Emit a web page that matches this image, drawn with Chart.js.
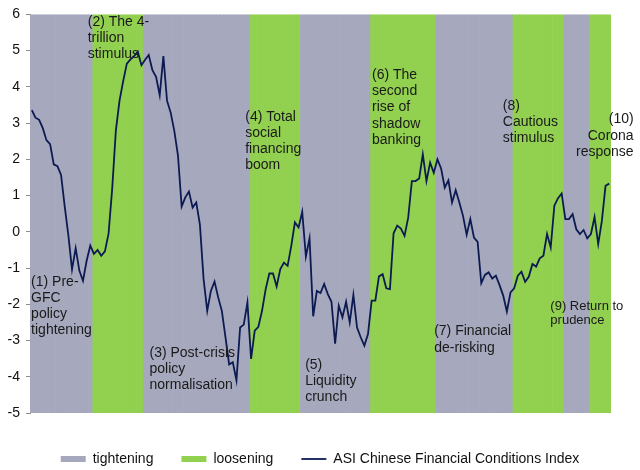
<!DOCTYPE html>
<html>
<head>
<meta charset="utf-8">
<script src="https://cdn.jsdelivr.net/npm/chart.js@4"></script>
<style>
  html, body { margin: 0; padding: 0; background: #fff; }
</style>
</head>
<body>
<canvas id="fciChart" width="640" height="470"></canvas>
<script>
// ========= data =========
const startYear = 2007;
const monthCount = 159; // Jan 2007 .. Mar 2020

const fciValues = [
  3.36, 3.15, 3.09, 2.86, 2.53, 2.42, 1.86, 1.81, 1.57, 0.70, -0.10, -1.04,
  -0.45, -1.07, -1.35, -0.80, -0.38, -0.61, -0.50, -0.66, -0.54, -0.05, 1.20, 2.80,
  3.62, 4.16, 4.64, 4.76, 4.85, 4.97, 4.60, 4.75, 4.88, 4.46, 4.28, 3.77,
  4.85, 3.62, 3.29, 2.78, 2.10, 0.70, 0.95, 1.11, 0.67, 0.81, 0.20, -1.30,
  -2.18, -1.63, -1.37, -1.81, -2.18, -2.91, -3.66, -3.60, -4.10, -2.64, -2.56, -1.95,
  -3.51, -2.73, -2.62, -2.18, -1.58, -1.15, -1.15, -1.51, -1.03, -0.85, -0.94, -0.39,
  0.26, 0.12, 0.55, -0.68, -0.18, -2.33, -1.63, -1.69, -1.44, -1.72, -1.93, -3.09,
  -2.04, -2.36, -1.93, -2.50, -1.74, -2.64, -2.91, -3.14, -2.82, -1.90, -1.90, -1.23,
  -1.17, -1.56, -1.58, -0.04, 0.17, 0.09, -0.11, 0.39, 1.40, 1.40, 1.47, 2.14,
  1.40, 1.91, 1.63, 2.00, 1.75, 1.22, 1.42, 0.81, 1.15, 0.81, 0.44, -0.08,
  0.35, -0.16, -0.28, -1.42, -1.19, -1.12, -1.29, -1.21, -1.47, -1.76, -2.20, -1.67,
  -1.56, -1.21, -1.10, -1.38, -1.24, -0.89, -0.96, -0.73, -0.66, -0.06, -0.43, 0.72,
  0.93, 1.06, 0.35, 0.35, 0.49, 0.07, -0.06, 0.05, -0.18, -0.06, 0.41, -0.34,
  0.30, 1.27, 1.33
];

const tighteningPeriods = [
  ["2007-01", "2008-05"], ["2009-08", "2011-12"], ["2013-03", "2014-09"],
  ["2016-04", "2017-12"], ["2019-03", "2019-09"]
];
const looseningPeriods = [
  ["2008-06", "2009-07"], ["2012-01", "2013-02"], ["2014-10", "2016-03"],
  ["2018-01", "2019-02"], ["2019-10", "2020-03"]
];

const yMin = -5, yMax = 6;

// text notes, anchored in (month index, index value)
const notes = [
  { lines: ["(1) Pre-", "GFC", "policy", "tightening"], month: -0.2, value: -1.40, align: "left", size: 14, gap: 16 },
  { lines: ["(2) The 4-", "trillion", "stimulus"], month: 15.3, value: 5.79, align: "left", size: 14, gap: 16.3 },
  { lines: ["(3) Post-crisis", "policy", "normalisation"], month: 32.2, value: -3.35, align: "left", size: 14, gap: 16 },
  { lines: ["(4) Total", "social", "financing", "boom"], month: 58.4, value: 3.17, align: "left", size: 14, gap: 16.2 },
  { lines: ["(5)", "Liquidity", "crunch"], month: 74.8, value: -3.69, align: "left", size: 14, gap: 16 },
  { lines: ["(6) The", "second", "rise of", "shadow", "banking"], month: 93.1, value: 4.33, align: "left", size: 14, gap: 16.3 },
  { lines: ["(7) Financial", "de-risking"], month: 110.1, value: -2.75, align: "left", size: 14, gap: 16.3 },
  { lines: ["(8)", "Cautious", "stimulus"], month: 128.9, value: 3.46, align: "left", size: 14, gap: 16 },
  { lines: ["(9) Return to", "prudence"], month: 141.9, value: -2.07, align: "left", size: 13, gap: 14 },
  { lines: ["(10)", "Corona", "response"], month: 164.7, value: 3.10, align: "right", size: 14, gap: 16.2 }
];

// ========= helpers =========
const FONT = "'Liberation Sans', Arial, sans-serif";
const GRAY = "#a6a8bd";
const GREEN = "#92d050";
const NAVY = "#0c1a52";
const AXIS = "#8c8c8c";

const months = [];
for (let i = 0; i < monthCount; i++) {
  const yr = startYear + Math.floor(i / 12);
  const mo = (i % 12) + 1;
  months.push(yr + "-" + String(mo).padStart(2, "0"));
}

function bandData(periods) {
  return months.map(m => periods.some(([a, b]) => m >= a && m <= b) ? [yMin, yMax] : null);
}

const notesPlugin = {
  id: "periodNotes",
  afterDraw(chart) {
    const { ctx, scales: { x, y } } = chart;
    ctx.save();
    ctx.fillStyle = "#1a1a1a";
    ctx.textBaseline = "middle";
    notes.forEach(n => {
      ctx.font = n.size + "px " + FONT;
      ctx.textAlign = n.align;
      const px = x.getPixelForValue(n.month);
      const py = y.getPixelForValue(n.value);
      n.lines.forEach((t, k) => ctx.fillText(t, px, py + k * n.gap));
    });
    ctx.restore();
  }
};

// ========= chart =========
new Chart(document.getElementById("fciChart"), {
  data: {
    labels: months,
    datasets: [
      {
        type: "bar", label: "tightening", data: bandData(tighteningPeriods),
        backgroundColor: GRAY, borderWidth: 0, barPercentage: 1, categoryPercentage: 1,
        grouped: false, order: 1, pointStyle: "rect"
      },
      {
        type: "bar", label: "loosening", data: bandData(looseningPeriods),
        backgroundColor: GREEN, borderWidth: 0, barPercentage: 1, categoryPercentage: 1,
        grouped: false, order: 1, pointStyle: "rect"
      },
      {
        type: "line", label: "ASI Chinese Financial Conditions Index", data: fciValues,
        borderColor: NAVY, backgroundColor: NAVY, borderWidth: 1.8, pointRadius: 0,
        tension: 0, fill: false, order: 0, pointStyle: "line"
      }
    ]
  },
  options: {
    responsive: false,
    animation: false,
    layout: { padding: { top: 13, left: 0, right: 0, bottom: -6 } },
    plugins: {
      tooltip: { enabled: false },
      legend: {
        position: "bottom",
        labels: {
          usePointStyle: true, pointStyleWidth: 25, boxHeight: 6, padding: 28,
          color: "#111", font: { size: 14, family: FONT },
          sort: (a, b) => a.datasetIndex - b.datasetIndex
        }
      }
    },
    scales: {
      x: {
        grid: { display: false },
        border: { display: false },
        ticks: {
          autoSkip: false, maxRotation: 0, minRotation: 0, padding: 11,
          color: "#111", font: { size: 14, family: FONT },
          callback: (v, i) => i % 12 === 0 ? months[i].slice(0, 4) : ""
        },
        afterFit: s => { s.height = 11; }
      },
      y: {
        min: yMin, max: yMax, z: 1,
        ticks: { stepSize: 1, padding: 6, color: "#111", font: { size: 14, family: FONT } },
        grid: {
          color: c => c.tick && c.tick.value === 0 ? AXIS : "rgba(0,0,0,0)",
          tickColor: AXIS, tickLength: 4, lineWidth: 1
        },
        border: { color: AXIS },
        afterFit: s => { s.width = 30; }
      },
      yr: {
        position: "right",
        grid: { display: false },
        border: { display: false },
        ticks: { display: false },
        afterFit: s => { s.width = 29; }
      }
    }
  },
  plugins: [notesPlugin]
});
</script>
</body>
</html>
